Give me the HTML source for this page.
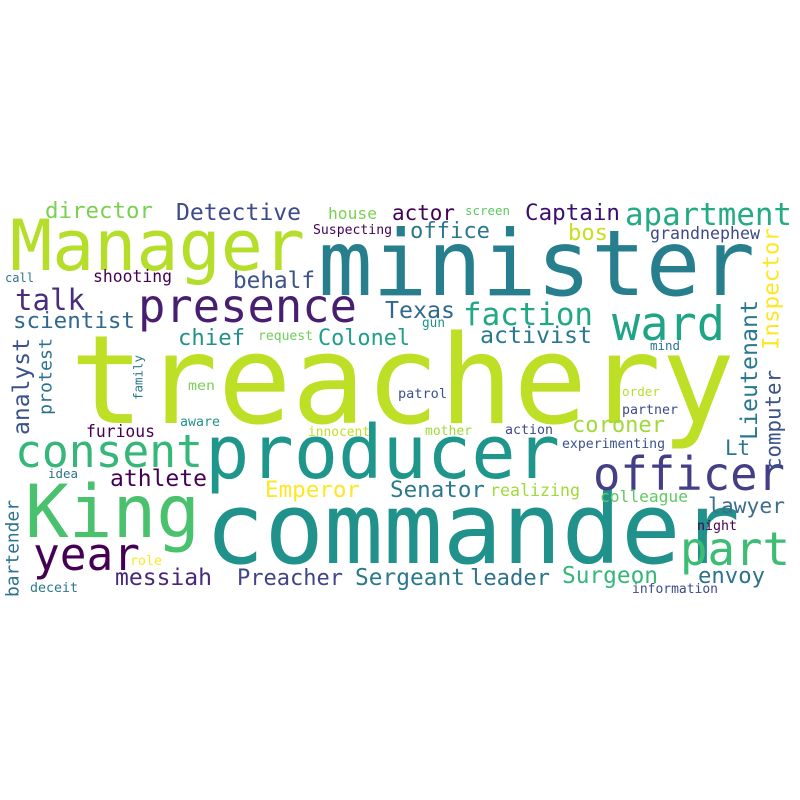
<!DOCTYPE html>
<html><head><meta charset="utf-8"><style>html,body{margin:0;padding:0;background:#fff}svg{display:block}text{font-family:"DejaVu Sans Mono","Liberation Mono",monospace}</style></head>
<body>
<svg id="cloud" width="800" height="800" viewBox="0 0 800 800">
<rect width="800" height="800" fill="#ffffff"/>
</svg>
<script>
const words = ["treachery","Manager","minister","producer","commander","King","officer","presence","consent","year","part","ward","apartment","faction","talk","Detective","director","actor","Captain","office","bos","grandnephew","house","screen","Suspecting","call","shooting","behalf","scientist","chief","request","Colonel","Texas","gun","activist","mind","Lt","men","aware","furious","innocent","patrol","order","partner","mother","action","coroner","experimenting","idea","athlete","Emperor","Senator","realizing","colleague","lawyer","night","role","deceit","messiah","Preacher","Sergeant","leader","Surgeon","envoy","information","Lieutenant","Inspector","computer","analyst","protest","family","bartender"];
const xs = [70,10,318,205,205,25,593,138,15,33,680,612,625,463,15,176,45,392,525,410,568,650,328,465,313,5,93,233,13,178,258,318,385,422,480,650,725,188,180,86,308,398,622,622,425,505,572,562,48,110,265,390,490,600,708,697,130,30,115,237,355,470,562,698,632,740,762,765,12,38,133,5];
const ys = [423,270,295,478,563,537,490,322,467,570,565,340,225,325,310,220,218,220,220,238,240,239,219,215,234,282,282,288,328,345,340,345,318,327,343,350,455,390,426,437,436,398,396,414,435,434,432,448,478,486,497,497,496,502,513,530,565,592,585,585,585,585,583,583,593,440,350,470,435,415,400,597];
const sizes = [123,70,91,74,99,73,46,46,45,45,46,47,31,31,29,23,22.5,21,22.6,22,22,16.7,16,12.5,13,12,16.5,23,22.6,22,13,22,23,13,23,12.5,21,13,13,16.4,13,13.6,12.7,13.3,13,13.3,22,13.2,12.5,23,22.6,22.6,16.7,16.3,21.4,13.3,13.3,13.3,23,22,23,22,22.8,22,13,23,22.6,21,23,18,12.5,18];
const lengths = [665,295,437,355,535,175,192,219,188,107,110,113,167,130,70,125,108,63,95,80,40,110,49,45,79,29,79,82,122,67,55,92,70,23,112,30,25,27,40,69,62,49,38,56,47,48,93,103,30,97,95,95,90,88,77,40,32,48,97,106,110,80,96,67,86,140,122,100,97,77,45,97];
const colors = ["#bddf26","#b5de2b","#277f8e","#1f968b","#21918c","#4ac16d","#433e85","#481f70","#35b779","#440154","#3dbc74","#20a486","#25ab82","#22a884","#472d7b","#3e4a89","#7ad151","#440154","#3b0f70","#2a788e","#c8e020","#3e4a89","#7ad151","#5ec962","#440154","#2c728e","#440154","#3b528b","#31688e","#21918c","#6ece58","#1f9e89","#31688e","#21918c","#2a788e","#2c728e","#2a788e","#7ad151","#21918c","#440154","#c2df23","#3b528b","#b5de2b","#3e4a89","#a0da39","#3e4a89","#a0da39","#3b528b","#2c728e","#440154","#fde725","#2a788e","#a0da39","#5ec962","#3e6e8e","#440154","#fde725","#2a788e","#482878","#414487","#2a788e","#2c728e","#35b779","#2c728e","#3e4a89","#2a788e","#fde725","#3b528b","#3b528b","#2c728e","#2a788e","#2c728e"];
const vertical = [0,0,0,0,0,0,0,0,0,0,0,0,0,0,0,0,0,0,0,0,0,0,0,0,0,0,0,0,0,0,0,0,0,0,0,0,0,0,0,0,0,0,0,0,0,0,0,0,0,0,0,0,0,0,0,0,0,0,0,0,0,0,0,0,0,1,1,1,1,1,1,1];

const svg = document.getElementById('cloud');
const NS = 'http://www.w3.org/2000/svg';
for (let i = 0; i < words.length; i++) {
  const t = document.createElementNS(NS, 'text');
  let x = xs[i], y = ys[i];
  if (vertical[i]) {
    x = xs[i] + sizes[i] * 0.74;
    t.setAttribute('transform', 'rotate(-90 ' + x + ' ' + y + ')');
  }
  t.setAttribute('x', x);
  t.setAttribute('y', y);
  t.setAttribute('font-size', sizes[i]);
  t.setAttribute('fill', colors[i]);
  t.setAttribute('textLength', lengths[i]);
  t.setAttribute('lengthAdjust', 'spacingAndGlyphs');
  t.textContent = words[i];
  
  
  svg.appendChild(t);
}
</script>
</body></html>
